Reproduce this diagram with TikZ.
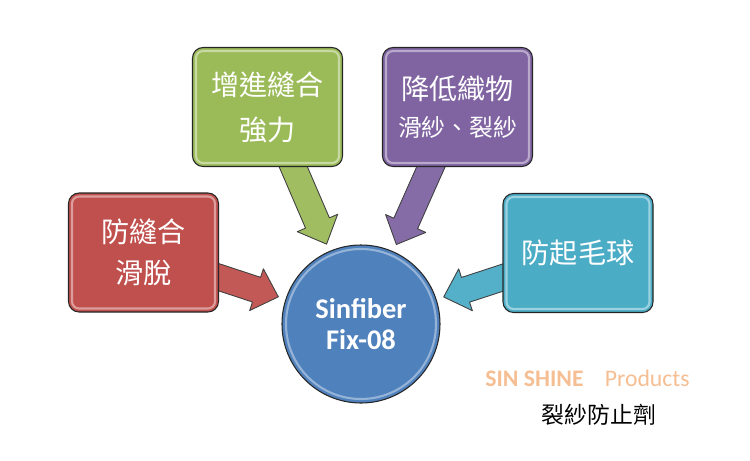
\documentclass[tikz,border=0pt]{standalone}
\usepackage{fontspec}
\newfontfamily\cjk{Noto Sans CJK TC}
\newfontfamily\lat{Carlito}
\usepackage{xcolor}
\usepackage{tikz}
\usetikzlibrary{calc}
\usetikzlibrary{positioning}

\definecolor{boxred}{HTML}{C0504D}
\definecolor{boxgreen}{HTML}{9BBB59}
\definecolor{boxpurple}{HTML}{8064A2}
\definecolor{boxaqua}{HTML}{4BACC6}
\definecolor{hubblue}{HTML}{4F81BD}
\definecolor{brandorange}{HTML}{F5BE93}

\tikzset{
  box/.style={rectangle, rounded corners=6pt, draw=black!85, line width=0.6pt,
    minimum width=3cm, minimum height=2.38cm, text=white, align=center,
    font=\cjk\fontsize{16}{23}\selectfont,
    path picture={\draw [white, opacity=0.45, line width=1.2pt, rounded corners=4pt]
      ([shift={(2pt,2pt)}]path picture bounding box.south west) rectangle
      ([shift={(-2pt,-2pt)}]path picture bounding box.north east);}},
  hub/.style={circle, draw=black!85, line width=0.6pt, fill=hubblue,
    minimum size=3.16cm, text=white, align=center,
    font=\lat\bfseries\fontsize{16.2}{17.6}\selectfont,
    path picture={\draw [white, opacity=0.4, line width=1.2pt]
      (path picture bounding box.center) circle (1.5cm);}},
  arrowbody/.style={draw=black!75, line width=0.5pt, line join=round}
}

\newcommand{\blockarrow}[3]{%
  \coordinate (tip) at ($(#2.center)!1.74cm!(#1.center)$);
  \coordinate (neck) at ($(tip)!0.46cm!(#1.center)$);
  \filldraw [arrowbody, fill=#3] ($(#1.center)!0.26cm!90:(tip)$)
    -- ($(neck)!0.26cm!90:(tip)$) -- ($(neck)!0.44cm!90:(tip)$)
    -- (tip) -- ($(neck)!0.44cm!-90:(tip)$) -- ($(neck)!0.26cm!-90:(tip)$)
    -- ($(#1.center)!0.26cm!-90:(tip)$) -- cycle;
}

\begin{document}
\begin{tikzpicture}
\useasboundingbox (0, 0) rectangle (15, -9.2);
\node [hub] (fix) at (7.22, -6.48) {Sinfiber\\Fix-08};
\path (2.87, -5.05) coordinate (redc) (5.35, -2.14) coordinate (greenc)
  (9.15, -2.14) coordinate (purplec) (11.56, -5.06) coordinate (aquac);
\blockarrow{redc}{fix}{boxred!95!white}
\blockarrow{greenc}{fix}{boxgreen!95!white}
\blockarrow{purplec}{fix}{boxpurple!95!white}
\blockarrow{aquac}{fix}{boxaqua!95!white}
\node [box, fill=boxred] (seam) at (redc) {防縫合\\滑脫};
\node [box, fill=boxgreen, font=\cjk\fontsize{16}{25.5}\selectfont] (strength) at (greenc) {增進縫合\\強力};
\node [box, fill=boxpurple] (slip) at (purplec) {降低織物\\[-2pt]{\fontsize{13.5}{16}\selectfont 滑紗、裂紗}};
\node [box, fill=boxaqua] (pill) at (aquac) {防起毛球};
\node [text=brandorange, font=\lat\fontsize{13.5}{16}\selectfont] (brand) at (11.75, -7.56) {\textbf{SIN SHINE}\hspace{0.9em}Products};
\node [text=black, font=\cjk\fontsize{13}{15}\selectfont] (product) at (11.98, -8.3) {裂紗防止劑};
\end{tikzpicture}
\end{document}
